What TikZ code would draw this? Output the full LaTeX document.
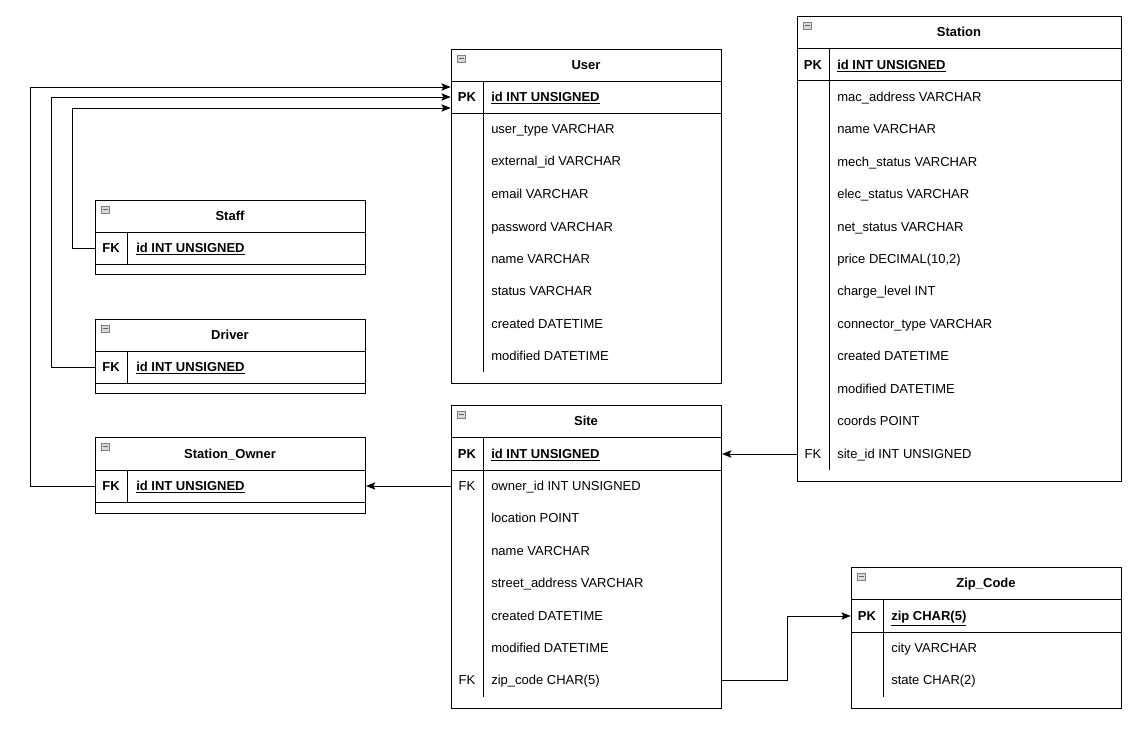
\documentclass[tikz,border=0pt]{standalone}
\usepackage{fontspec}
\setmainfont{Liberation Sans}
\usetikzlibrary{arrows.meta,calc}

\newcommand{\erfont}{\fontsize{9.75}{12}\selectfont}

\tikzset{
	every node/.style={text height=9pt, text depth=2pt},
	tbl/.style={draw, line width=0.75pt, anchor=north west, inner sep=0pt, text height=, text depth=},
	ttl/.style={font=\erfont\bfseries},
	keycol/.style={minimum width=24pt, minimum height=24pt, inner sep=0pt},
	pkey/.style={keycol, font=\erfont\bfseries},
	fld/.style={anchor=west, inner sep=0pt},
	pfld/.style={fld, font=\erfont\bfseries},
	sep/.style={line width=0.75pt},
	icon/.style={draw=gray, fill=gray!30, line width=0.4pt, minimum width=6pt, minimum height=5pt, inner sep=0pt, anchor=north west, text height=, text depth=,
		path picture={\draw[black!60, line width=0.6pt] ([xshift=1pt]path picture bounding box.west) -- ([xshift=-1pt]path picture bounding box.east);}},
	rel/.style={-{Stealth[length=7pt,width=5.5pt,inset=1.5pt]}, line width=0.75pt}
}

\begin{document}
\begin{tikzpicture}[x=0.75pt, y=-0.75pt, font=\erfont]
\useasboundingbox (0,0) rectangle (1140,732);

% User
\node[tbl, minimum width=202.5pt, minimum height=250.5pt] (user) at (451,49) {};
\node[icon] (user-icon) at (457,55) {};
\node[ttl] (user-title) at (586,65) {User};
\draw[sep] (451,81) -- (721,81);
\draw[sep] (451,113) -- (721,113);
\draw[sep] (483,81) -- (483,372);
\node[pkey] (user-pk-key) at (467,97) {PK};
\node[pfld] (user-pk) at (491,97) {\underline{id INT UNSIGNED}};
\node[fld] (user-f1) at (491,129) {user\_type VARCHAR};
\node[fld] (user-f2) at (491,161) {external\_id VARCHAR};
\node[fld] (user-f3) at (491,194) {email VARCHAR};
\node[fld] (user-f4) at (491,227) {password VARCHAR};
\node[fld] (user-f5) at (491,259) {name VARCHAR};
\node[fld] (user-f6) at (491,291) {status VARCHAR};
\node[fld] (user-f7) at (491,324) {created DATETIME};
\node[fld] (user-f8) at (491,356) {modified DATETIME};

% Station
\node[tbl, minimum width=243pt, minimum height=348.75pt] (station) at (797,16) {};
\node[icon] (station-icon) at (803,22) {};
\node[ttl] (station-title) at (959,32) {Station};
\draw[sep] (797,48) -- (1121,48);
\draw[sep] (797,80) -- (1121,80);
\draw[sep] (829,48) -- (829,470);
\node[pkey] (station-pk-key) at (813,65) {PK};
\node[pfld] (station-pk) at (837,65) {\underline{id INT UNSIGNED}};
\node[fld] (station-f1) at (837,97) {mac\_address VARCHAR};
\node[fld] (station-f2) at (837,129) {name VARCHAR};
\node[fld] (station-f3) at (837,162) {mech\_status VARCHAR};
\node[fld] (station-f4) at (837,194) {elec\_status VARCHAR};
\node[fld] (station-f5) at (837,227) {net\_status VARCHAR};
\node[fld] (station-f6) at (837,259) {price DECIMAL(10,2)};
\node[fld] (station-f7) at (837,291) {charge\_level INT};
\node[fld] (station-f8) at (837,324) {connector\_type VARCHAR};
\node[fld] (station-f9) at (837,356) {created DATETIME};
\node[fld] (station-f10) at (837,389) {modified DATETIME};
\node[fld] (station-f11) at (837,421) {coords POINT};
\node[keycol] (station-fk-key) at (813,454) {FK};
\node[fld] (station-fk) at (837,454) {site\_id INT UNSIGNED};

% Staff
\node[tbl, minimum width=202.5pt, minimum height=55.5pt] (staff) at (95,200) {};
\node[icon] (staff-icon) at (101,206) {};
\node[ttl] (staff-title) at (230,216) {Staff};
\draw[sep] (95,232) -- (365,232);
\draw[sep] (95,264) -- (365,264);
\draw[sep] (127,232) -- (127,264);
\node[pkey] (staff-key) at (111,248) {FK};
\node[pfld] (staff-id) at (136,248) {\underline{id INT UNSIGNED}};

% Driver
\node[tbl, minimum width=202.5pt, minimum height=55.5pt] (driver) at (95,319) {};
\node[icon] (driver-icon) at (101,325) {};
\node[ttl] (driver-title) at (230,335) {Driver};
\draw[sep] (95,351) -- (365,351);
\draw[sep] (95,383) -- (365,383);
\draw[sep] (127,351) -- (127,383);
\node[pkey] (driver-key) at (111,367) {FK};
\node[pfld] (driver-id) at (136,367) {\underline{id INT UNSIGNED}};

% Station_Owner
\node[tbl, minimum width=202.5pt, minimum height=57pt] (owner) at (95,437) {};
\node[icon] (owner-icon) at (101,443) {};
\node[ttl] (owner-title) at (230,454) {Station\_Owner};
\draw[sep] (95,470) -- (365,470);
\draw[sep] (95,502) -- (365,502);
\draw[sep] (127,470) -- (127,502);
\node[pkey] (owner-key) at (111,486) {FK};
\node[pfld] (owner-id) at (136,486) {\underline{id INT UNSIGNED}};

% Site
\node[tbl, minimum width=202.5pt, minimum height=227.25pt] (site) at (451,405) {};
\node[icon] (site-icon) at (457,411) {};
\node[ttl] (site-title) at (586,421) {Site};
\draw[sep] (451,437) -- (721,437);
\draw[sep] (451,470) -- (721,470);
\draw[sep] (483,437) -- (483,697);
\node[pkey] (site-pk-key) at (467,454) {PK};
\node[pfld] (site-pk) at (491,454) {\underline{id INT UNSIGNED}};
\node[keycol] (site-owner-key) at (467,486) {FK};
\node[fld] (site-owner) at (491,486) {owner\_id INT UNSIGNED};
\node[fld] (site-f1) at (491,518) {location POINT};
\node[fld] (site-f2) at (491,551) {name VARCHAR};
\node[fld] (site-f3) at (491,583) {street\_address VARCHAR};
\node[fld] (site-f4) at (491,616) {created DATETIME};
\node[fld] (site-f5) at (491,648) {modified DATETIME};
\node[keycol] (site-zip-key) at (467,680) {FK};
\node[fld] (site-zip) at (491,680) {zip\_code CHAR(5)};

% Zip_Code
\node[tbl, minimum width=202.5pt, minimum height=105.75pt] (zip) at (851,567) {};
\node[icon] (zip-icon) at (857,573) {};
\node[ttl] (zip-title) at (986,583) {Zip\_Code};
\draw[sep] (851,599) -- (1121,599);
\draw[sep] (851,632) -- (1121,632);
\draw[sep] (883,599) -- (883,697);
\node[pkey] (zip-pk-key) at (867,616) {PK};
\node[pfld] (zip-pk) at (891,616) {\underline{zip CHAR(5)}};
\node[fld] (zip-f1) at (891,648) {city VARCHAR};
\node[fld] (zip-f2) at (891,680) {state CHAR(2)};

% relations
\draw[rel] (staff-key.west) -- (72,248) |- ($(user-pk-key.west)+(0,11)$);
\draw[rel] (driver-key.west) -- (51,367) |- (user-pk-key.west);
\draw[rel] (owner-key.west) -- (30,486) |- ($(user-pk-key.west)+(0,-10)$);
\draw[rel] (site-owner-key.west) -- (owner.east |- owner-key.center);
\draw[rel] (station-fk-key.west) -- (site.east |- site-pk-key.center);
\draw[rel] (site.east |- site-zip-key.center) -- (787,680) |- (zip-pk-key.west);
\end{tikzpicture}
\end{document}
